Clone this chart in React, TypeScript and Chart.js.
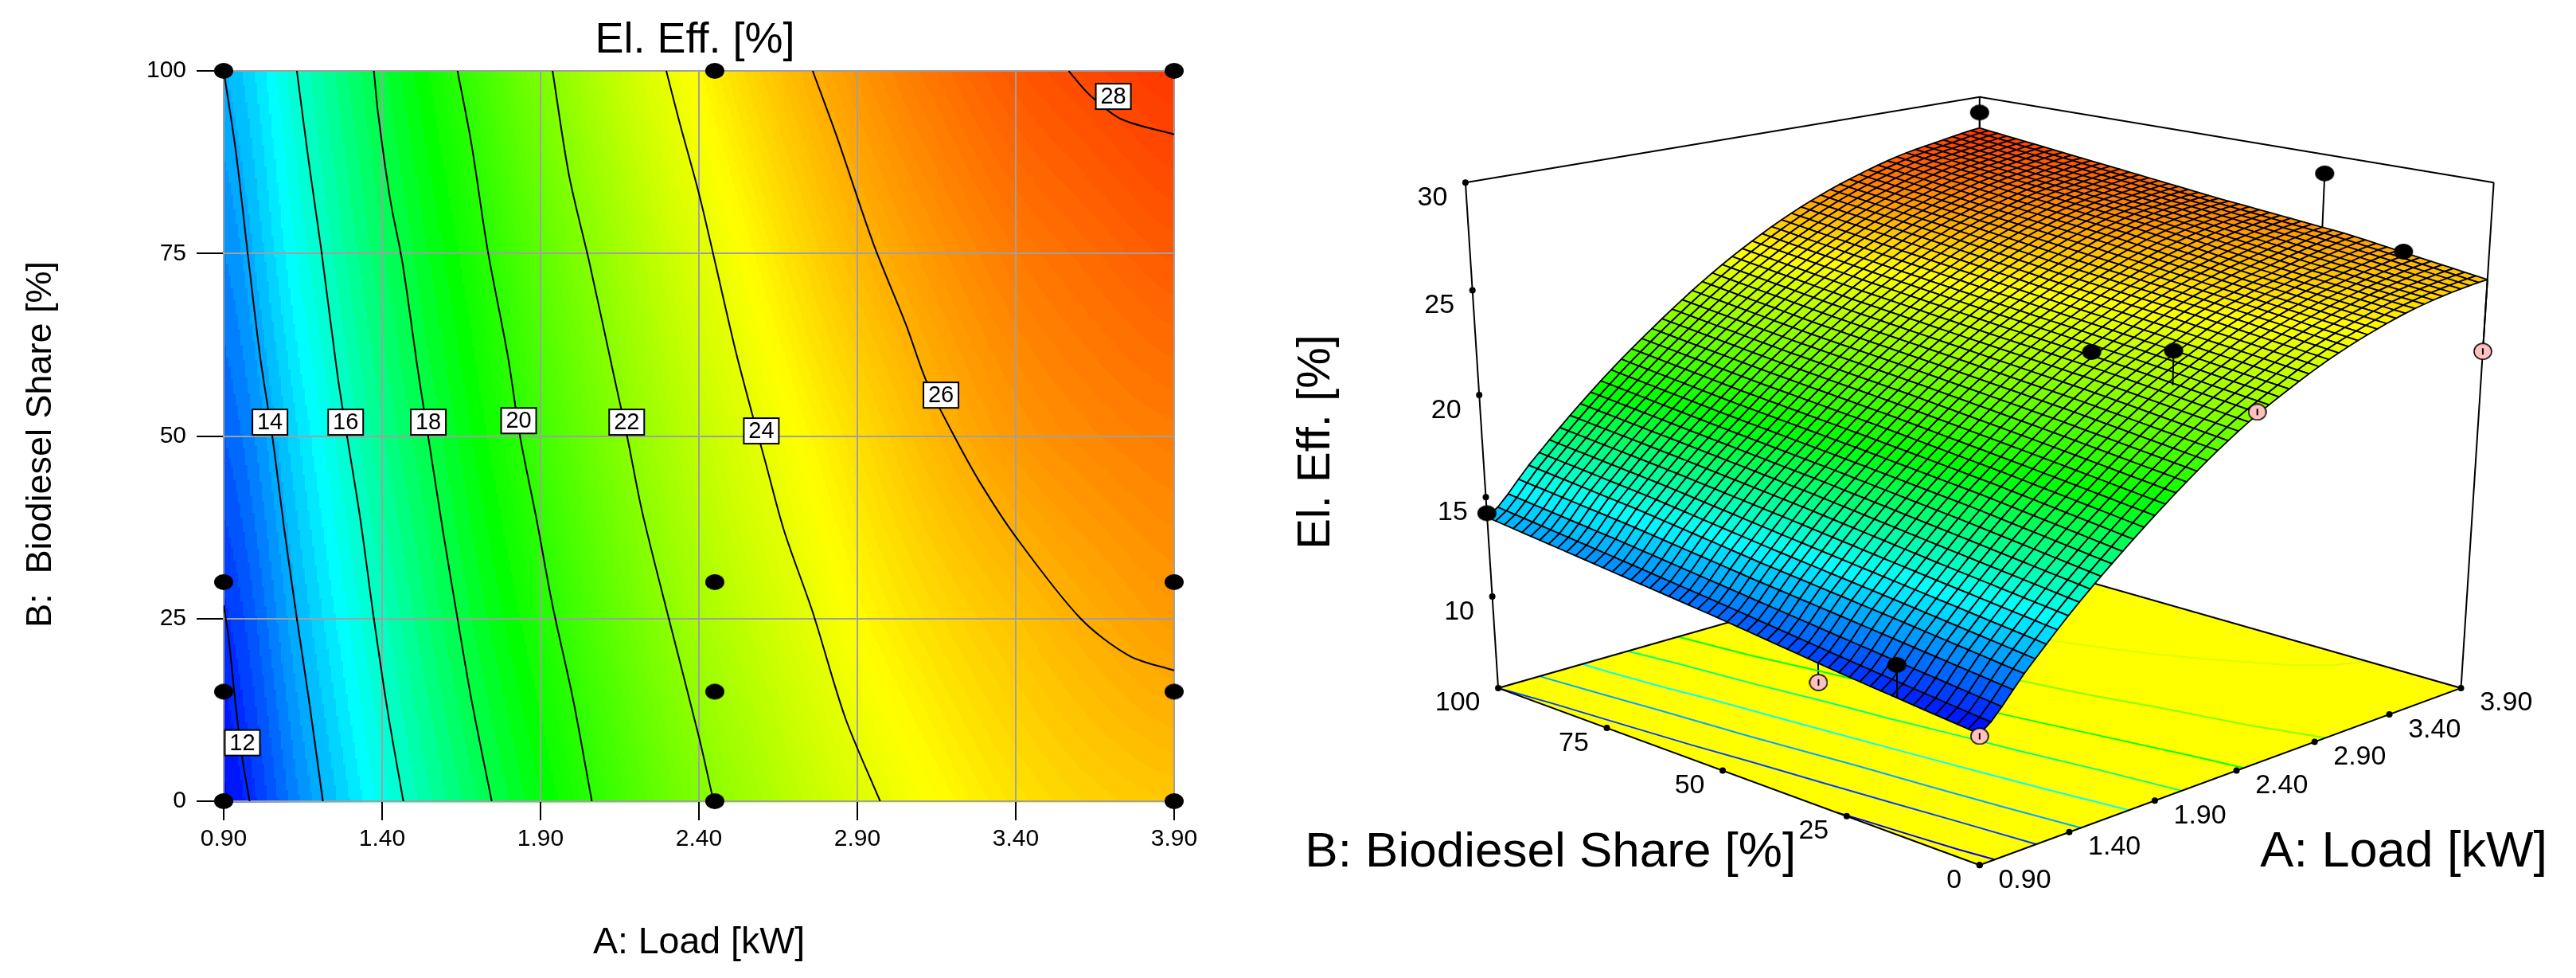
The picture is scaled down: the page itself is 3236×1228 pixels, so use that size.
import React, { useEffect, useRef } from "react";
import { Chart, registerables } from "chart.js";
Chart.register(...registerables);

const FONT = '"Liberation Sans", Arial, sans-serif';

// ---------- data ----------
const loadTicks = [0.9, 1.4, 1.9, 2.4, 2.9, 3.4, 3.9];
const shareTicks = [0, 25, 50, 75, 100];
const effTicks = [10, 15, 20, 25, 30];
const effFloor = 5.28;

const gridLoad = [0.9, 1.15, 1.4, 1.65, 1.9, 2.15, 2.4, 2.65, 2.9, 3.15, 3.4, 3.65, 3.9];
const gridShare = [0, 25, 50, 75, 100];
const effAt0 = [11.3, 13.45, 15.5, 17.3, 18.95, 20.45, 21.75, 22.8, 23.7, 24.4, 24.95, 25.3, 25.5];
const effAt25 = [11.95, 14.15, 16.2, 18.1, 19.7, 21.2, 22.5, 23.5, 24.45, 25.1, 25.6, 26.05, 26.4];
const effAt50 = [12.7, 14.8, 16.95, 18.75, 20.4, 21.85, 23.1, 24.15, 25.05, 25.85, 26.45, 26.8, 27.0];
const effAt75 = [13.35, 15.55, 17.6, 19.35, 21, 22.45, 23.75, 24.85, 25.8, 26.5, 27.05, 27.4, 27.7];
const effAt100 = [14, 16.15, 18.2, 20.05, 21.7, 23.2, 24.5, 25.6, 26.5, 27.2, 27.75, 28.1, 28.4];
const effTable = [effAt0, effAt25, effAt50, effAt75, effAt100];

const contour12 = [[0.9, 26.8], [0.915, 22.6], [0.938, 13.1], [0.959, 5.8], [0.982, 0]];
const contour14 = [[0.9, 100], [0.938, 89.1], [0.977, 74.6], [1.015, 60.9], [1.054, 49.8], [1.092, 37], [1.131, 25], [1.169, 13.9], [1.213, 0]];
const contour16 = [[1.131, 100], [1.169, 87.4], [1.208, 75.5], [1.259, 58.4], [1.29, 49.8], [1.331, 38.7], [1.374, 25], [1.418, 12.2], [1.467, 0]];
const contour18 = [[1.374, 100], [1.387, 94.3], [1.426, 82.3], [1.464, 73.8], [1.515, 58.4], [1.546, 49.8], [1.592, 37], [1.638, 25], [1.682, 13.9], [1.746, 0]];
const contour20 = [[1.638, 100], [1.682, 90], [1.733, 75.5], [1.797, 60.9], [1.836, 49.8], [1.887, 38.7], [1.938, 26.8], [2.003, 13.9], [2.062, 0]];
const contour22 = [[1.938, 100], [1.99, 85.7], [2.054, 73.8], [2.131, 58.4], [2.174, 49.8], [2.221, 39.6], [2.305, 25], [2.4, 8.8], [2.446, 0]];
const contour24 = [[2.297, 100], [2.336, 93.4], [2.4, 83.2], [2.451, 73.8], [2.515, 61.8], [2.567, 53.2], [2.61, 46.4], [2.669, 37], [2.759, 25.9], [2.862, 11.4], [2.972, 0]];
const contour26 = [[2.759, 100], [2.836, 90.9], [2.951, 76.3], [3.054, 65.2], [3.118, 57.5], [3.208, 49.8], [3.285, 43.8], [3.4, 36.2], [3.605, 25], [3.759, 19.9], [3.9, 17.9]];
const contour28 = [[3.567, 100], [3.631, 96.8], [3.733, 93.4], [3.9, 91.3]];
const contours = [contour12, contour14, contour16, contour18, contour20, contour22, contour24, contour26, contour28];
const floorLineColors = ["#0000ff", "#0040ff", "#00a8ff", "#00ffff", "#00ff80", "#00ff00", "#80ff00", "#d8ff00", "#ffff00"];

const contourLevels = ["12", "14", "16", "18", "20", "22", "24", "26", "28"];
const contourLabelLoad = [0.959, 1.046, 1.285, 1.546, 1.831, 2.172, 2.597, 3.164, 3.708];
const contourLabelShare = [8, 51.9, 51.9, 51.9, 52.1, 51.9, 50.7, 55.6, 96.5];

const designLoad = [0.9, 0.9, 0.9, 0.9, 2.45, 2.45, 2.45, 2.45, 3.9, 3.9, 3.9, 3.9];
const designShare = [0, 15, 30, 100, 0, 15, 30, 100, 0, 15, 30, 100];

// measured runs visible in the 3-D view: [load, share, measured efficiency]
const runsAbove = [[3.9, 100, 29.2], [3.9, 30, 29.1], [3.9, 15, 26.07], [2.45, 15, 24], [2.45, 30, 23.1], [0.9, 15, 13.2], [0.9, 100, 14.2]];
const runsBelow = [[3.9, 0, 22.1], [2.45, 0, 22.1], [0.9, 30, 11.2], [0.9, 0, 11.2]];

// ---------- helpers ----------
const colorStops: [number, number, number, number][] = [
  [11.2, 0, 0, 255],
  [15.2, 0, 255, 255],
  [19.1, 0, 255, 0],
  [24.4, 255, 255, 0],
  [29.5, 255, 0, 0],
];
function effColor(z: number) {
  if (z <= colorStops[0][0]) return "rgb(0,0,255)";
  for (let i = 1; i < colorStops.length; i++) {
    const a = colorStops[i - 1], b = colorStops[i];
    if (z <= b[0]) {
      const t = (z - a[0]) / (b[0] - a[0]);
      return `rgb(${Math.round(a[1] + (b[1] - a[1]) * t)},${Math.round(a[2] + (b[2] - a[2]) * t)},${Math.round(a[3] + (b[3] - a[3]) * t)})`;
    }
  }
  return "rgb(255,0,0)";
}
function rowAt(row: number[], a: number) {
  const s = (a - gridLoad[0]) / (gridLoad[1] - gridLoad[0]);
  const i = Math.max(0, Math.min(row.length - 2, Math.floor(s)));
  const t = s - i;
  const p0 = row[Math.max(0, i - 1)], p1 = row[i], p2 = row[i + 1], p3 = row[Math.min(row.length - 1, i + 2)];
  return p1 + 0.5 * t * (p2 - p0 + t * (2 * p0 - 5 * p1 + 4 * p2 - p3 + t * (3 * (p1 - p2) + p3 - p0)));
}
function effAtPoint(a: number, b: number) {
  const s = (b - gridShare[0]) / (gridShare[1] - gridShare[0]);
  const i = Math.max(0, Math.min(gridShare.length - 2, Math.floor(s)));
  const t = s - i;
  return rowAt(effTable[i], a) * (1 - t) + rowAt(effTable[i + 1], a) * t;
}
// perspective view of (load, share, efficiency) into the flat view scale
function project(a: number, b: number, z: number) {
  const u = (a - 0.9) / 3, v = b / 100, w = (z - effFloor) / (30 - effFloor);
  const d = 1 + 0.1444 * (u + v) - 0.0729 * w;
  return { x: 851 + (674 * (u - v)) / d, y: (1400 - 129.7 * (u + v) - 968.1 * w) / d };
}
function makeDot(w: number, h: number, fill: string, stroke?: string, bar?: boolean) {
  const c = document.createElement("canvas");
  c.width = w + 2; c.height = h + 2;
  const g = c.getContext("2d")!;
  g.beginPath();
  g.ellipse(c.width / 2, c.height / 2, w / 2, h / 2, 0, 0, Math.PI * 2);
  g.fillStyle = fill; g.fill();
  if (stroke) { g.strokeStyle = stroke; g.lineWidth = 1.5; g.stroke(); }
  if (bar) { g.fillStyle = "#000"; g.fillRect(c.width / 2 - 1, c.height / 2 - 4, 2, 8); }
  return c;
}
function text(ctx: CanvasRenderingContext2D, s: string, x: number, y: number, size: number, align: CanvasTextAlign = "center", rot = 0) {
  ctx.save();
  ctx.translate(x, y);
  if (rot) ctx.rotate(rot);
  ctx.font = `${size}px ${FONT}`;
  ctx.fillStyle = "#000";
  ctx.textAlign = align;
  ctx.textBaseline = "middle";
  ctx.fillText(s, 0, 0);
  ctx.restore();
}

// ---------- left panel ----------
const heatPlugin = {
  id: "heat",
  beforeDraw(chart: any) {
    const { ctx, chartArea: ca, scales } = chart;
    const stepX = 3, stepY = 3;
    for (let px = ca.left; px < ca.right; px += stepX) {
      for (let py = ca.top; py < ca.bottom; py += stepY) {
        const a = Math.min(3.9, scales.x.getValueForPixel(px + stepX / 2));
        const b = Math.max(0, Math.min(100, scales.y.getValueForPixel(py + stepY / 2)));
        const raw = effAtPoint(a, b);
        const q = raw < 19.5 ? 0.33 : 0.12;
        ctx.fillStyle = effColor(Math.round(raw / q) * q);
        ctx.fillRect(px, py, stepX + 0.5, stepY + 0.5);
      }
    }
  },
};
const leftLabels = {
  id: "leftLabels",
  afterDatasetsDraw(chart: any) {
    const { ctx, scales } = chart;
    contourLevels.forEach((lv, i) => {
      const x = scales.x.getPixelForValue(contourLabelLoad[i]);
      const y = scales.y.getPixelForValue(contourLabelShare[i]);
      ctx.fillStyle = "#fff"; ctx.strokeStyle = "#000"; ctx.lineWidth = 2;
      ctx.fillRect(x - 22, y - 16, 44, 32);
      ctx.strokeRect(x - 22, y - 16, 44, 32);
      text(ctx, lv, x, y + 1, 29);
    });
    text(ctx, "El. Eff. [%]", 873, 51, 54);
    text(ctx, "B:  Biodiesel Share [%]", 52, 558, 45, "center", -Math.PI / 2);
  },
};
function buildLeft(canvas: HTMLCanvasElement) {
  const dot = makeDot(24, 20, "#000");
  const axisTicks = (vals: number[]) => (s: any) => { s.ticks = vals.map((value) => ({ value })); };
  return new Chart(canvas, {
    type: "scatter",
    data: {
      datasets: [
        ...contours.map((c, i) => ({
          label: "Contour " + contourLevels[i],
          data: c.map(([x, y]) => ({ x, y })),
          showLine: true, borderColor: "#000", borderWidth: 2, pointRadius: 0, tension: 0.3,
        })),
        {
          label: "Design points",
          data: designLoad.map((x, i) => ({ x, y: designShare[i] })),
          pointStyle: dot, pointRadius: 12, clip: false,
        },
      ],
    } as any,
    options: {
      animation: false, responsive: false,
      layout: { padding: { top: 89, right: 125, left: 0, bottom: 0 } },
      plugins: { legend: { display: false }, tooltip: { enabled: false } },
      scales: {
        x: {
          type: "linear", min: 0.9, max: 3.9,
          afterBuildTicks: axisTicks(loadTicks),
          afterFit: (s: any) => { s.height = 222; },
          border: { color: "#a0a0a0", width: 2 },
          grid: { color: "#a0a0a0", lineWidth: 2, tickColor: "#000", tickLength: 24, tickWidth: 2 },
          ticks: { color: "#000", font: { family: FONT, size: 30 }, padding: 6, maxRotation: 0, autoSkip: false, callback: (v: any) => Number(v).toFixed(2) },
          title: { display: true, text: "A: Load [kW]", color: "#000", font: { family: FONT, size: 46.5 }, padding: { top: 0, bottom: 16 } },
        },
        y: {
          type: "linear", min: 0, max: 100,
          afterBuildTicks: axisTicks(shareTicks),
          afterFit: (s: any) => { s.width = 281; },
          border: { color: "#a0a0a0", width: 2 },
          grid: { color: "#a0a0a0", lineWidth: 2, tickColor: "#000", tickLength: 34, tickWidth: 2 },
          ticks: { color: "#000", font: { family: FONT, size: 30 }, padding: 13, autoSkip: false },
        },
      },
    } as any,
    plugins: [heatPlugin, leftLabels],
  });
}

// ---------- right panel ----------
const MESH = 50;
const line3d = (pts: [number, number, number][]) => pts.map(([a, b, z]) => project(a, b, z));

const floorPlugin = {
  id: "floor",
  beforeDatasetsDraw(chart: any) {
    const { ctx, scales } = chart;
    ctx.beginPath();
    [[0.9, 0], [3.9, 0], [3.9, 100], [0.9, 100]].forEach(([a, b], i) => {
      const p = project(a, b, effFloor);
      const x = scales.x.getPixelForValue(p.x), y = scales.y.getPixelForValue(p.y);
      if (i) ctx.lineTo(x, y); else ctx.moveTo(x, y);
    });
    ctx.closePath();
    ctx.fillStyle = "#ffff00"; ctx.fill();
  },
};
const surfacePlugin = {
  id: "surface",
  afterDatasetDraw(chart: any, args: any) {
    if (chart.data.datasets[args.index].label !== "Surface") return;
    const { ctx, scales } = chart;
    const P = (i: number, j: number) => {
      const a = 0.9 + (3 * i) / MESH, b = (100 * j) / MESH;
      const p = project(a, b, effAtPoint(a, b));
      return [scales.x.getPixelForValue(p.x), scales.y.getPixelForValue(p.y)];
    };
    ctx.save();
    ctx.lineWidth = 1.8; ctx.strokeStyle = "#000"; ctx.lineJoin = "round";
    // far corner (max load, max share) first, near corner last
    for (let s = 2 * MESH - 2; s >= 0; s--) {
      for (let i = 0; i < MESH; i++) {
        const j = s - i;
        if (j < 0 || j >= MESH) continue;
        const a = 0.9 + (3 * (i + 0.5)) / MESH, b = (100 * (j + 0.5)) / MESH;
        const q = [P(i, j), P(i + 1, j), P(i + 1, j + 1), P(i, j + 1)];
        ctx.beginPath();
        ctx.moveTo(q[0][0], q[0][1]);
        for (let k = 1; k < 4; k++) ctx.lineTo(q[k][0], q[k][1]);
        ctx.closePath();
        ctx.fillStyle = effColor(effAtPoint(a, b));
        ctx.fill();
        ctx.stroke();
      }
    }
    ctx.restore();
  },
};
const rightLabels = {
  id: "rightLabels",
  afterDatasetsDraw(chart: any) {
    const { ctx, scales } = chart;
    const X = (v: number) => scales.x.getPixelForValue(v), Y = (v: number) => scales.y.getPixelForValue(v);
    loadTicks.forEach((t) => {
      const p = project(t, 0, effFloor);
      text(ctx, t.toFixed(2), X(p.x + 23), Y(p.y + 25), 34, "left");
    });
    shareTicks.forEach((t) => {
      const p = project(0.9, t, effFloor);
      text(ctx, String(t), X(p.x - 22), Y(p.y + 25), 34, "right");
    });
    effTicks.forEach((t) => {
      const p = project(0.9, 100, t);
      text(ctx, String(t), X(p.x - 22), Y(p.y + 25), 34, "right");
    });
    text(ctx, "El. Eff. [%]", X(40), Y(707), 58, "center", -Math.PI / 2);
    text(ctx, "B: Biodiesel Share [%]", X(326), Y(1380), 62);
    text(ctx, "A: Load [kW]", X(1370), Y(1380), 63);
  },
};
function buildRight(canvas: HTMLCanvasElement) {
  const big = makeDot(24, 20, "#000");
  const pink = makeDot(22, 20, "#ffc0c0", "#000", true);
  const lineDs = (label: string, data: any[], color: string, order: number, width = 2) => ({
    label, data, showLine: true, borderColor: color, borderWidth: width, pointRadius: 0, tension: 0, order, clip: false,
  });
  const stemsBelow = runsBelow.map(([a, b, z]) =>
    lineDs("Stem below", [project(a, b, z), project(a, b, effAtPoint(a, b))], "#000", 10));
  const stemsAbove = runsAbove.map(([a, b, z]) =>
    lineDs("Stem above", [project(a, b, z), project(a, b, effAtPoint(a, b))], "#000", 2));
  const frame = [
    lineDs("Frame top", line3d([[0.9, 100, 30], [3.9, 100, 30], [3.9, 0, 30]]), "#000", 10),
    lineDs("Frame left", line3d([[0.9, 100, 30], [0.9, 100, effFloor]]), "#000", 10),
    lineDs("Frame right", line3d([[3.9, 0, 30], [3.9, 0, effFloor]]), "#000", 10),
    lineDs("Frame back", line3d([[3.9, 100, 30], [3.9, 100, effFloor]]), "#000", 10),
    lineDs("Floor edge", line3d([[0.9, 0, effFloor], [3.9, 0, effFloor], [3.9, 100, effFloor], [0.9, 100, effFloor], [0.9, 0, effFloor]]), "#000", 9),
  ];
  const floorLines = contours.slice(0, 8).map((c, i) =>
    lineDs("Floor contour " + contourLevels[i], c.map(([a, b]) => project(a, b, effFloor)), floorLineColors[i], 9, 2));
  const tickDots = {
    label: "Axis ticks",
    data: [
      ...loadTicks.map((t) => project(t, 0, effFloor)),
      ...shareTicks.map((t) => project(0.9, t, effFloor)),
      ...effTicks.map((t) => project(0.9, 100, t)),
    ],
    pointRadius: 4, pointBackgroundColor: "#000", pointBorderWidth: 0, order: 8, clip: false,
  };
  return new Chart(canvas, {
    type: "scatter",
    data: {
      datasets: [
        ...frame, ...floorLines, ...stemsBelow, tickDots,
        { label: "Surface", data: [], order: 5 },
        ...stemsAbove,
        { label: "Above surface", data: runsAbove.map(([a, b, z]) => project(a, b, z)), pointStyle: big, pointRadius: 12, order: 1, clip: false },
        { label: "Below surface", data: runsBelow.map(([a, b, z]) => project(a, b, z)), pointStyle: pink, pointRadius: 12, order: 1, clip: false },
      ],
    } as any,
    options: {
      animation: false, responsive: false,
      layout: { padding: 0 },
      plugins: { legend: { display: false }, tooltip: { enabled: false } },
      scales: {
        x: { type: "linear", min: 0, max: 1568, display: false },
        y: { type: "linear", min: 0, max: 1568, reverse: true, display: false },
      },
    } as any,
    plugins: [floorPlugin, surfacePlugin, rightLabels],
  });
}

export default function App() {
  const leftRef = useRef<HTMLCanvasElement>(null);
  const rightRef = useRef<HTMLCanvasElement>(null);
  useEffect(() => {
    const l = buildLeft(leftRef.current!);
    const r = buildRight(rightRef.current!);
    return () => { l.destroy(); r.destroy(); };
  }, []);
  return (
    <div style={{ position: "fixed", left: 0, top: 0, width: 3236, height: 1228, background: "#fff", overflow: "hidden" }}>
      <canvas ref={leftRef} width={1600} height={1228} style={{ position: "absolute", left: 0, top: 0, width: 1600, height: 1228 }} />
      <canvas ref={rightRef} width={1636} height={1228} style={{ position: "absolute", left: 1600, top: 0, width: 1636, height: 1228 }} />
    </div>
  );
}
